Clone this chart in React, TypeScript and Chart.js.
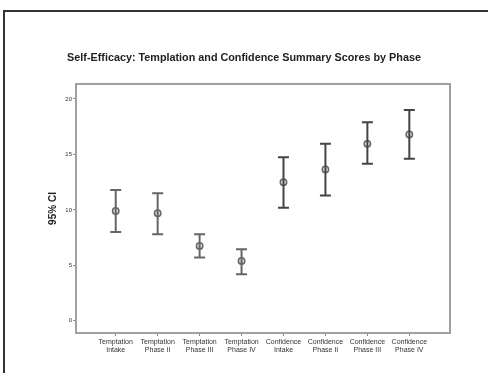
import React, { useEffect, useRef } from "react";
import { Chart, registerables } from "chart.js";

Chart.register(...registerables);

const titleText = "Self-Efficacy: Templation and Confidence Summary Scores by Phase";
const yAxisTitle = "95% CI";
const categories: string[][] = [
  ["Temptation", "Intake"],
  ["Temptation", "Phase II"],
  ["Temptation", "Phase III"],
  ["Temptation", "Phase IV"],
  ["Confidence", "Intake"],
  ["Confidence", "Phase II"],
  ["Confidence", "Phase III"],
  ["Confidence", "Phase IV"],
];
const means = [9.9, 9.7, 6.75, 5.4, 12.5, 13.65, 15.95, 16.8];
const lower = [8.0, 7.8, 5.7, 4.2, 10.2, 11.3, 14.15, 14.6];
const upper = [11.8, 11.5, 7.8, 6.45, 14.75, 15.95, 17.9, 19.0];
const yTicks = [0, 5, 10, 15, 20];

const FONT = "Arial, 'Liberation Sans', Helvetica, sans-serif";

const framePlugin = {
  id: "frame",
  beforeDraw(chart: any) {
    const { ctx } = chart;
    ctx.save();
    ctx.fillStyle = "#ffffff";
    ctx.fillRect(0, 0, chart.width, chart.height);
    ctx.strokeStyle = "#333333";
    ctx.lineWidth = 2;
    ctx.strokeRect(4, 11, chart.width + 20, chart.height + 20);
    ctx.restore();
  },
  afterDraw(chart: any) {
    const { ctx, chartArea } = chart;
    ctx.save();
    ctx.strokeStyle = "#a0a0a0";
    ctx.lineWidth = 2;
    ctx.strokeRect(chartArea.left, chartArea.top, chartArea.right - chartArea.left, chartArea.bottom - chartArea.top);
    ctx.restore();
  },
};

const errorBarPlugin = {
  id: "errorBars",
  afterDatasetsDraw(chart: any) {
    const { ctx } = chart;
    const x = chart.scales.x;
    const y = chart.scales.y;
    ctx.save();
    ctx.lineWidth = 2;
    means.forEach((_, i) => {
      ctx.strokeStyle = i < 4 ? "#666666" : "#444444";
      const px = x.getPixelForValue(i);
      const pu = y.getPixelForValue(upper[i]);
      const pl = y.getPixelForValue(lower[i]);
      ctx.beginPath();
      ctx.moveTo(px, pu);
      ctx.lineTo(px, pl);
      ctx.moveTo(px - 5.5, pu);
      ctx.lineTo(px + 5.5, pu);
      ctx.moveTo(px - 5.5, pl);
      ctx.lineTo(px + 5.5, pl);
      ctx.stroke();
    });
    ctx.restore();
  },
};

export default function App() {
  const ref = useRef<HTMLCanvasElement | null>(null);

  useEffect(() => {
    document.body.style.margin = "0";
    const canvas = ref.current;
    if (!canvas) return;
    const chart = new Chart(canvas, {
      type: "scatter",
      data: {
        datasets: [
          {
            data: means.map((m, i) => ({ x: i, y: m })),
            pointRadius: 3.2,
            pointBorderWidth: 1.5,
            pointBorderColor: "#666666",
            pointBackgroundColor: "rgba(160,160,160,0.35)",
            showLine: false,
          },
        ],
      },
      options: {
        responsive: false,
        animation: false,
        devicePixelRatio: 1,
        layout: { padding: { left: 0, right: 0, top: 0, bottom: 0 } },
        plugins: {
          legend: { display: false },
          tooltip: { enabled: false },
          title: {
            display: true,
            text: titleText,
            color: "#222222",
            font: { family: FONT, size: 10.8, weight: "bold", lineHeight: 1.2 },
            padding: { top: 51.5, bottom: 19.5 },
          },
        },
        scales: {
          x: {
            type: "linear",
            min: -0.947,
            max: 7.97,
            afterBuildTicks: (scale: any) => {
              scale.ticks = categories.map((_, i) => ({ value: i }));
            },
            afterFit: (scale: any) => {
              scale.height = 40;
            },
            ticks: {
              autoSkip: false,
              maxRotation: 0,
              minRotation: 0,
              padding: 2,
              color: "#333333",
              font: { family: FONT, size: 7, lineHeight: 1.15 },
              callback: (v: any) => categories[v] ?? "",
            },
            grid: { drawOnChartArea: false, drawTicks: true, tickLength: 3, color: "#888888", lineWidth: 1 },
            border: { display: true, color: "#a0a0a0", width: 2 },
          },
          y: {
            type: "linear",
            position: "left",
            min: -1.1,
            max: 21.35,
            afterBuildTicks: (scale: any) => {
              scale.ticks = yTicks.map((v) => ({ value: v }));
            },
            afterFit: (scale: any) => {
              scale.width = 76;
            },
            title: {
              display: true,
              text: yAxisTitle,
              color: "#222222",
              font: { family: FONT, size: 10, weight: "bold", lineHeight: 1.2 },
              padding: { top: 47, bottom: 0 },
            },
            ticks: {
              padding: 1,
              color: "#333333",
              font: { family: FONT, size: 6 },
            },
            grid: { drawOnChartArea: false, drawTicks: true, tickLength: 3, color: "#888888", lineWidth: 1 },
            border: { display: true, color: "#a0a0a0", width: 2 },
          },
          yRight: {
            type: "linear",
            position: "right",
            display: true,
            min: -1.1,
            max: 21.35,
            afterFit: (scale: any) => {
              scale.width = 38;
            },
            ticks: { display: false },
            grid: { display: false, drawTicks: false },
            border: { display: false },
          },
        },
      },
      plugins: [framePlugin, errorBarPlugin],
    } as any);
    return () => chart.destroy();
  }, []);

  return (
    <canvas ref={ref} width={488} height={373} style={{ display: "block", width: 488, height: 373 }} />
  );
}
